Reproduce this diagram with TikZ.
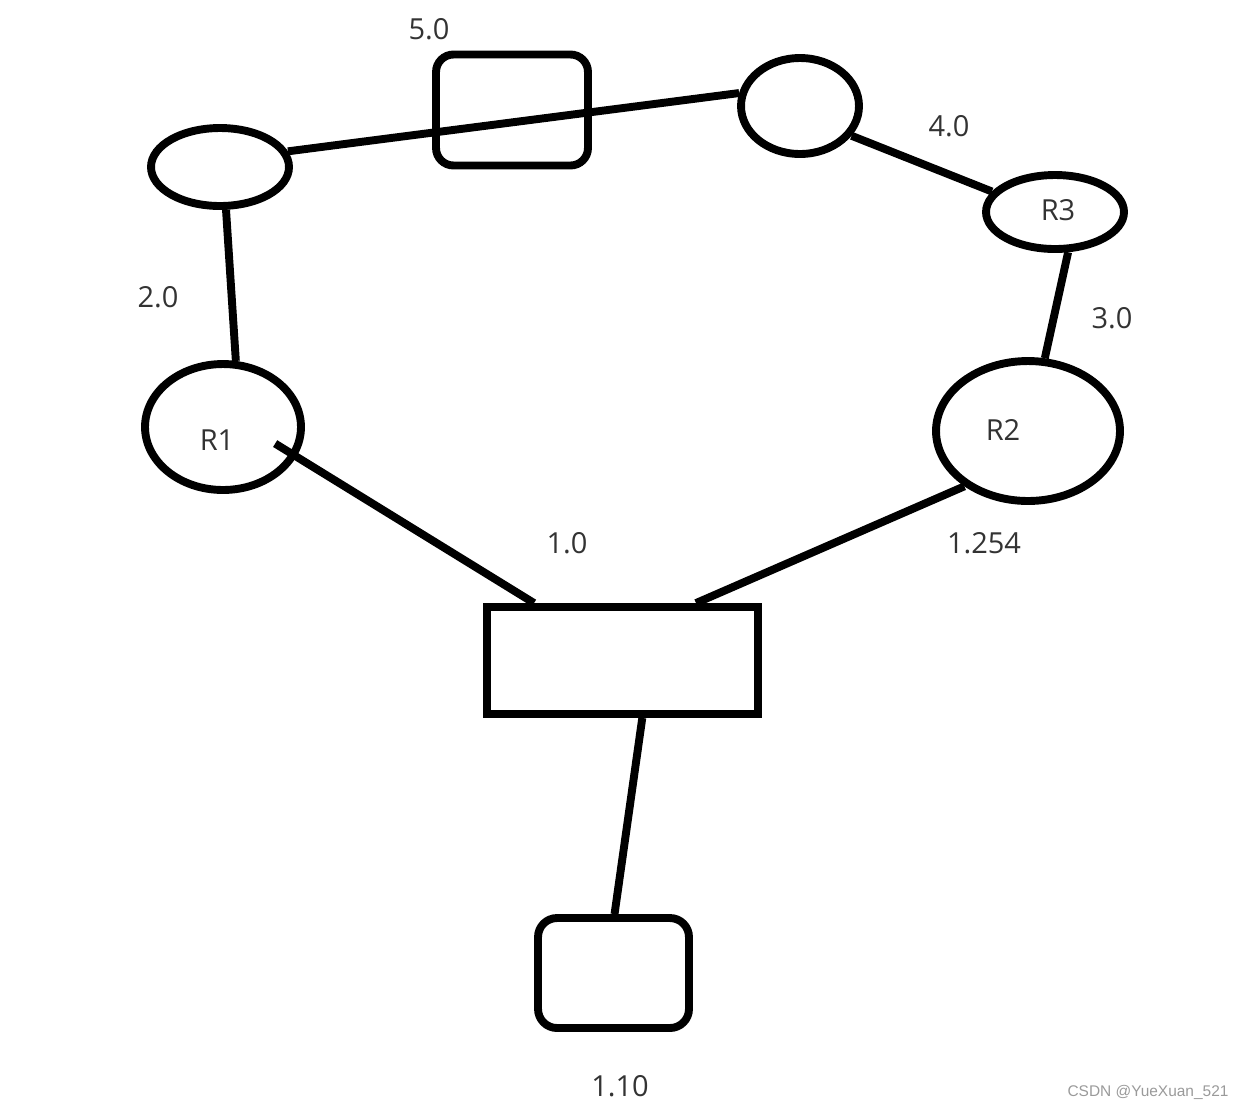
\documentclass[tikz,border=0pt]{standalone}
\usepackage{fontspec}
\setmainfont{Open Sans}
\newfontfamily\markfont{Liberation Sans}
\usetikzlibrary{shapes.geometric}
\definecolor{inkText}{HTML}{333333}
\definecolor{markGrey}{HTML}{9A9A9A}

\begin{document}
\begin{tikzpicture}[x=0.02cm, y=-0.02cm,
  hub/.style={ellipse, draw, line width=4.5pt, inner sep=0pt},
  box/.style={rectangle, draw, line width=4.5pt, inner sep=0pt},
  link/.style={line width=4.5pt},
  num/.style={font=\fontsize{16.5}{20}\selectfont, text=inkText, inner sep=0pt},
  wmark/.style={font=\markfont\fontsize{8.8}{10}\selectfont, text=markGrey, inner sep=0pt},
]
\useasboundingbox (0,0) rectangle (1246,1110);
% ---- hubs ----
\node[hub, minimum width=2.76cm, minimum height=1.56cm] (tl) at (220,167) {};
\node[hub, minimum width=2.36cm, minimum height=1.92cm] (tr) at (800,106) {};
\node[hub, minimum width=2.76cm, minimum height=1.48cm] (r3) at (1055,212) {};
\node[hub, minimum width=3.12cm, minimum height=2.52cm] (r1) at (223,427) {};
\node[hub, minimum width=3.68cm, minimum height=2.80cm] (r2) at (1028,431) {};
% ---- boxes ----
\node[box, rounded corners=0.35cm, minimum width=3.04cm, minimum height=2.22cm] (net5) at (512,110) {};
\node[box, minimum width=5.42cm, minimum height=2.14cm] (sw) at (622.5,660.5) {};
\node[box, rounded corners=0.38cm, minimum width=3.02cm, minimum height=2.2cm] (pc) at (613.5,973) {};
% ---- links ----
\draw[link] (tl.13) -- (tr.168);
\draw[link] (tr.-30) -- (r3.162);
\draw[link] (r3.-72) -- (r2.77);
\draw[link] (tl.-82) -- (r1.79);
\draw[link, shorten <=-0.5cm] (r1.-22) -- (sw.147);
\draw[link] (r2.221) -- (sw.38);
\draw[link] (sw.-71) -- (pc.89);
% ---- router names ----
\node[num] (r1txt) at (217,440) {R1};
\node[num] (r2txt) at (1003,430) {R2};
\node[num] (r3txt) at (1058,210) {R3};
% ---- network labels ----
\node[num] (n50) at (429,29) {5.0};
\node[num] (n40) at (949,126) {4.0};
\node[num] (n30) at (1112,318) {3.0};
\node[num] (n20) at (158,297) {2.0};
\node[num] (n10) at (567,543) {1.0};
\node[num] (n1254) at (984,543) {1.254};
\node[num] (n110) at (620,1086) {1.10};
% ---- watermark ----
\node[wmark] (csdn) at (1148,1092) {CSDN @YueXuan\_521};
\end{tikzpicture}
\end{document}
